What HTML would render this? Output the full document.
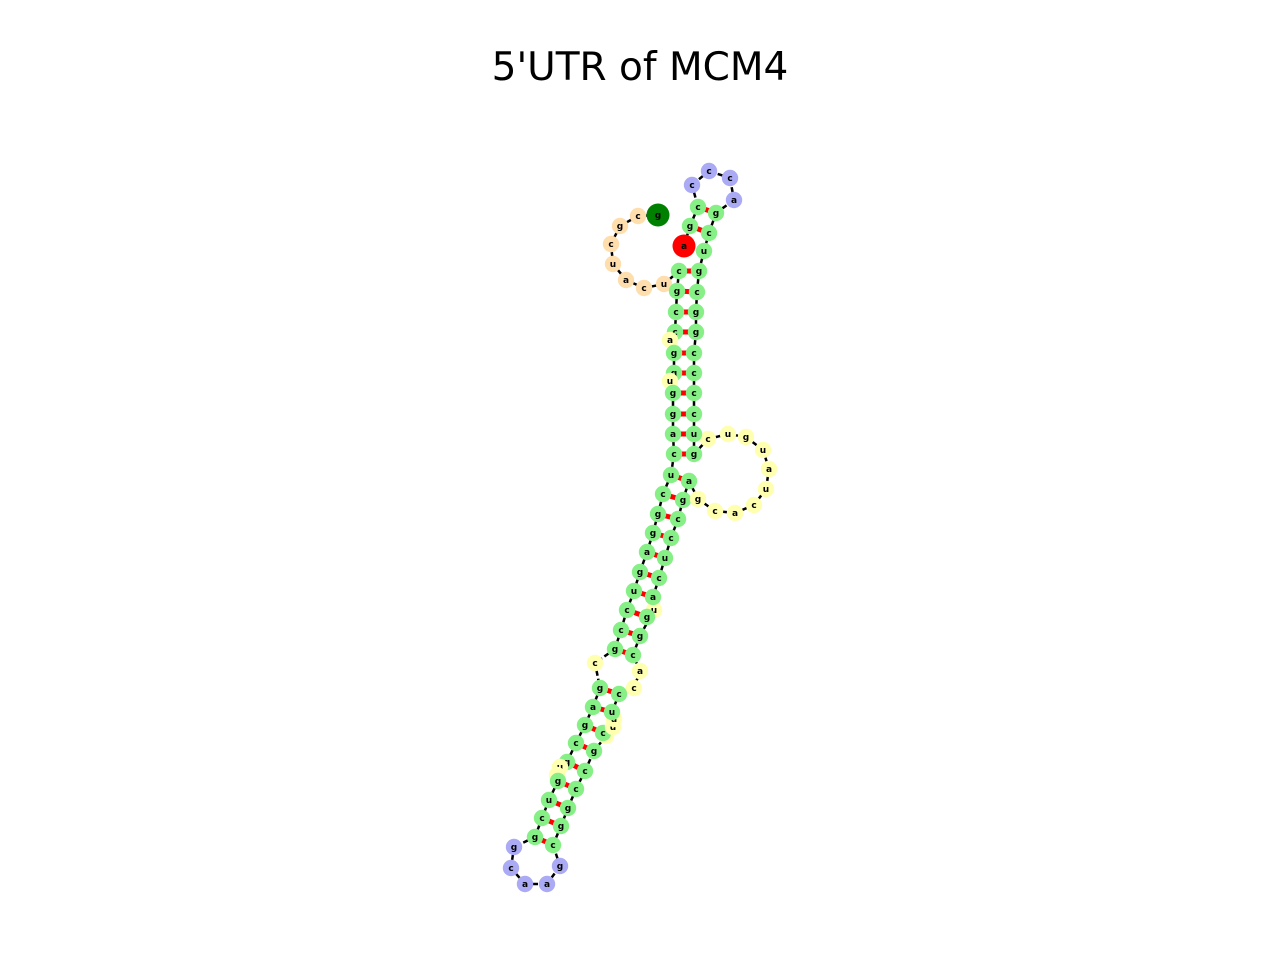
<!DOCTYPE html>
<html><head><meta charset="utf-8"><style>
html,body{margin:0;padding:0;background:#fff;}
svg{display:block;font-family:"DejaVu Sans","Liberation Sans",sans-serif;}
</style></head><body>
<svg id="chart" width="1280" height="960" viewBox="0 0 1280 960">
<rect width="1280" height="960" fill="#fff"/>
<text x="640" y="80" text-anchor="middle" font-size="39" fill="#000">5'UTR of MCM4</text>
<g id="bb"></g>
<g id="pl"></g>
<g id="nd"></g>
</svg>
<script>
const seq = [
"g","c","g","c","u","a","c","u","c","g",
"c","c","a","g","g","u","g","g","a","c",
"u","c","g","g","a","g","u","c","c","g",
"c","g","a","g","c","g","u","c","g","u",
"c","g","g","c","a","a","g","c","g","g",
"c","c","g","c","c","u","u","u","c","c",
"a","c","g","u","g","a","c","u","c","c",
"g","a","g","c","a","c","u","a","u","g",
"u","c","g","u","c","c","c","c","g","g",
"c","g","u","c","g","a","c","c","c","c",
"g","a"];
const layoutX = [658,638,620,611,613,626,644,664,679,677,676,675,670,674,674,670,673,673,673,674,671,663,658,653,647,640,634,627,621,615,595,600,593,585,576,567,560,557,558,549,542,535,514,511,525,547,560,553,561,568,576,585,594,606,603,613,614,612,619,634,640,633,640,654,647,653,659,665,671,678,683,689,698,715,735,754,766,769,763,746,728,708,694,694,694,694,694,694,696,696,697,699,704,709,716,734,730,709,692,698,690,684];
const layoutY = [215,216,226,244,264,280,288,284,271,291,312,332,340,353,373,381,393,414,434,454,475,494,514,533,552,572,591,610,630,649,663,688,707,725,743,762,767,775,781,800,818,837,847,868,884,884,866,845,826,808,789,771,751,736,733,727,719,712,694,688,671,655,636,610,617,597,578,558,538,519,500,481,499,511,513,505,489,469,450,437,434,439,454,434,414,393,373,353,332,312,292,271,251,233,213,200,178,171,185,207,226,246];
const kinds = [
"E","O","O","O","O","O","O","O","S","S",
"S","S","Y","S","S","Y","S","S","S","S",
"S","S","S","S","S","S","S","S","S","S",
"Y","S","S","S","S","S","Y","Y","S","S",
"S","S","B","B","B","B","B","S","S","S",
"S","S","S","Y","S","Y","Y","S","S","Y",
"Y","S","S","Y","S","S","S","S","S","S",
"S","S","Y","Y","Y","Y","Y","Y","Y","Y",
"Y","Y","S","S","S","S","S","S","S","S",
"S","S","S","S","S","B","B","B","B","S",
"S","R"];
const pairI = [8,9,10,11,13,14,16,17,18,19,20,21,22,23,24,25,26,27,28,29,31,32,33,34,35,38,39,40,41,93,94];
const pairJ = [91,90,89,88,87,86,85,84,83,82,71,70,69,68,67,66,65,64,62,61,58,57,54,52,51,50,49,48,47,100,99];
const colors = {E:"#008000",R:"#ff0000",O:"#ffdead",S:"#86f086",Y:"#ffffb0",B:"#aaaaf5"};
const NS="http://www.w3.org/2000/svg";
const px = i => layoutX[i], py = i => layoutY[i];
const bb=document.getElementById('bb'), pl=document.getElementById('pl'), nd=document.getElementById('nd');
for(let i=0;i<seq.length-1;i++){
  const l=document.createElementNS(NS,'line');
  l.setAttribute('x1',px(i));l.setAttribute('y1',py(i));l.setAttribute('x2',px(i+1));l.setAttribute('y2',py(i+1));
  l.setAttribute('stroke','#000');l.setAttribute('stroke-width','2.5');l.setAttribute('stroke-dasharray','5,3');
  
  
  bb.appendChild(l);
}
for(let k=0;k<pairI.length;k++){
  const a=pairI[k], b=pairJ[k];
  const l=document.createElementNS(NS,'line');
  l.setAttribute('x1',px(a));l.setAttribute('y1',py(a));l.setAttribute('x2',px(b));l.setAttribute('y2',py(b));
  l.setAttribute('stroke','#ff0000');l.setAttribute('stroke-width','5');
  
  
  pl.appendChild(l);
}
for(let i=0;i<seq.length;i++){
  const g=document.createElementNS(NS,'g');
  
  
  const big = kinds[i]==='E'||kinds[i]==='R';
  const c=document.createElementNS(NS,'circle');
  c.setAttribute('cx',px(i));c.setAttribute('cy',py(i));c.setAttribute('r',big?11.5:8.2);
  c.setAttribute('fill',colors[kinds[i]]);
  g.appendChild(c);
  const t=document.createElementNS(NS,'text');
  t.setAttribute('x',px(i));t.setAttribute('y',py(i)+3);t.setAttribute('text-anchor','middle');
  t.setAttribute('font-size','9');t.setAttribute('font-weight','bold');t.setAttribute('fill','#000');
  t.textContent=seq[i];
  g.appendChild(t);
  nd.appendChild(g);
}
</script>
</body></html>
